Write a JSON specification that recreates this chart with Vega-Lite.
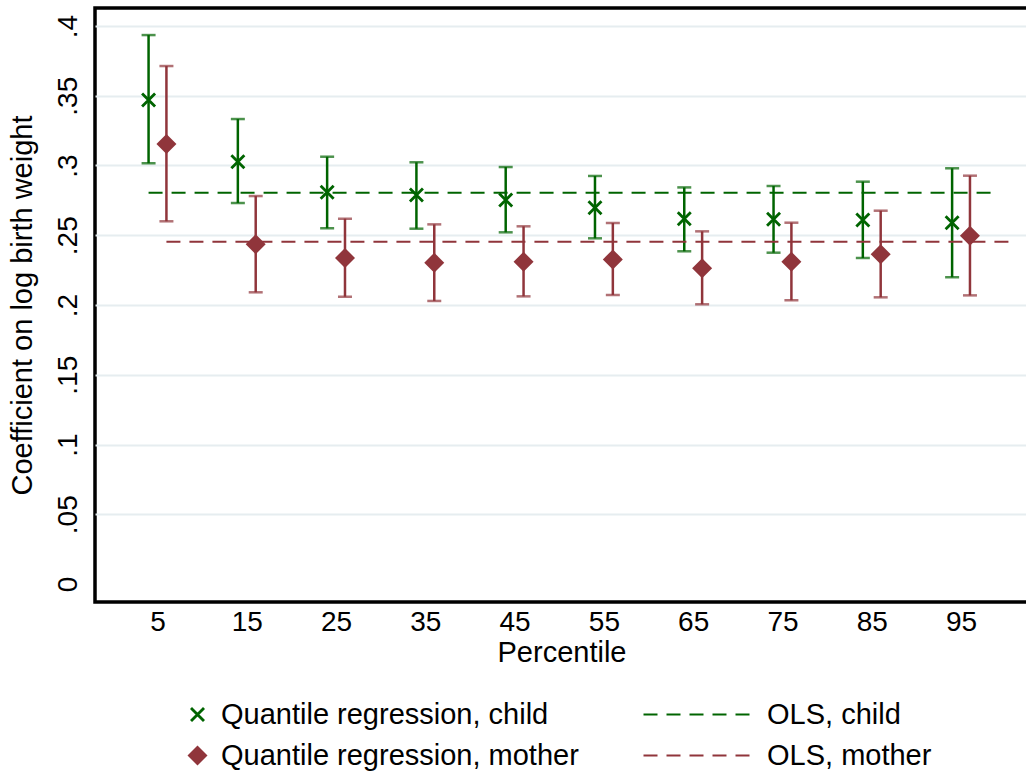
{
  "$schema": "https://vega.github.io/schema/vega-lite/v6.json",
  "autosize": {"type": "none"},
  "padding": {"left": 95, "top": 8, "right": 0, "bottom": 170},
  "width": 933,
  "height": 594,
  "background": "white",
  "config": {
    "view": {"stroke": "black", "strokeWidth": 3.5},
    "font": "Liberation Sans",
    "axis": {"labelFont": "Liberation Sans", "titleFont": "Liberation Sans", "labelColor": "black", "titleColor": "black", "titleFontWeight": "normal"},
    "legend": {"labelFont": "Liberation Sans", "labelColor": "black", "labelLimit": 0, "symbolOpacity": 1}
  },
  "datasets": {
    "qr": [
      {"series": "Quantile regression, child", "percentile": 5, "x": 4, "coef": 0.347, "lo": 0.3016, "hi": 0.3935},
      {"series": "Quantile regression, child", "percentile": 15, "x": 14, "coef": 0.3027, "lo": 0.2731, "hi": 0.3333},
      {"series": "Quantile regression, child", "percentile": 25, "x": 24, "coef": 0.2808, "lo": 0.255, "hi": 0.3063},
      {"series": "Quantile regression, child", "percentile": 35, "x": 34, "coef": 0.2789, "lo": 0.2547, "hi": 0.3023},
      {"series": "Quantile regression, child", "percentile": 45, "x": 44, "coef": 0.2753, "lo": 0.2521, "hi": 0.2989},
      {"series": "Quantile regression, child", "percentile": 55, "x": 54, "coef": 0.2698, "lo": 0.2478, "hi": 0.2925},
      {"series": "Quantile regression, child", "percentile": 65, "x": 64, "coef": 0.2619, "lo": 0.2385, "hi": 0.2843},
      {"series": "Quantile regression, child", "percentile": 75, "x": 74, "coef": 0.2614, "lo": 0.2375, "hi": 0.2853},
      {"series": "Quantile regression, child", "percentile": 85, "x": 84, "coef": 0.2609, "lo": 0.2337, "hi": 0.2884},
      {"series": "Quantile regression, child", "percentile": 95, "x": 94, "coef": 0.259, "lo": 0.2199, "hi": 0.298},
      {"series": "Quantile regression, mother", "percentile": 5, "x": 6, "coef": 0.3154, "lo": 0.26, "hi": 0.3713},
      {"series": "Quantile regression, mother", "percentile": 15, "x": 16, "coef": 0.2435, "lo": 0.2091, "hi": 0.2781},
      {"series": "Quantile regression, mother", "percentile": 25, "x": 26, "coef": 0.2337, "lo": 0.2059, "hi": 0.2619},
      {"series": "Quantile regression, mother", "percentile": 35, "x": 36, "coef": 0.2303, "lo": 0.2029, "hi": 0.2578},
      {"series": "Quantile regression, mother", "percentile": 45, "x": 46, "coef": 0.231, "lo": 0.2062, "hi": 0.2564},
      {"series": "Quantile regression, mother", "percentile": 55, "x": 56, "coef": 0.2327, "lo": 0.2072, "hi": 0.2588},
      {"series": "Quantile regression, mother", "percentile": 65, "x": 66, "coef": 0.2263, "lo": 0.2005, "hi": 0.2528},
      {"series": "Quantile regression, mother", "percentile": 75, "x": 76, "coef": 0.231, "lo": 0.2034, "hi": 0.259},
      {"series": "Quantile regression, mother", "percentile": 85, "x": 86, "coef": 0.2363, "lo": 0.2055, "hi": 0.2676},
      {"series": "Quantile regression, mother", "percentile": 95, "x": 96, "coef": 0.2497, "lo": 0.2069, "hi": 0.2927}
    ],
    "ols": [
      {"series": "OLS, child", "x_start": 4, "x_end": 99, "coef": 0.2805},
      {"series": "OLS, mother", "x_start": 6, "x_end": 101, "coef": 0.2454}
    ]
  },
  "encoding": {
    "x": {
      "type": "quantitative",
      "scale": {"domain": [-2, 102.5], "nice": false, "zero": false},
      "axis": {
        "title": "Percentile",
        "values": [5, 15, 25, 35, 45, 55, 65, 75, 85, 95],
        "grid": false, "ticks": false, "domain": false,
        "labelFontSize": 28, "labelPadding": 6,
        "titleFontSize": 29, "titlePadding": 2
      }
    },
    "y": {
      "type": "quantitative",
      "scale": {"domain": [-0.0129, 0.4129], "nice": false, "zero": false},
      "axis": {
        "title": "Coefficient on log birth weight",
        "values": [0, 0.05, 0.1, 0.15, 0.2, 0.25, 0.3, 0.35, 0.4],
        "labelExpr": "datum.value == 0 ? '0' : replace(format(datum.value, '.2~f'), '0.', '.')",
        "grid": true,
        "gridColor": {"condition": {"test": "datum.value == 0", "value": "transparent"}, "value": "#e6edf0"},
        "gridWidth": 2,
        "ticks": false, "domain": false,
        "labelAngle": -90, "labelAlign": "center", "labelBaseline": "bottom",
        "labelFontSize": 28, "labelPadding": 13,
        "titleFontSize": 29, "titlePadding": 17
      }
    }
  },
  "layer": [
    {
      "data": {"name": "qr"},
      "mark": {"type": "rule", "strokeWidth": 2.5},
      "encoding": {
        "x": {"field": "x"},
        "y": {"field": "lo"},
        "y2": {"field": "hi"},
        "color": {"field": "series", "type": "nominal",
          "scale": {"domain": ["Quantile regression, child", "Quantile regression, mother"], "range": ["#006400", "#90353b"]}}
      }
    },
    {
      "data": {"name": "qr"},
      "mark": {"type": "tick", "orient": "horizontal", "size": 14, "thickness": 2.5},
      "encoding": {
        "x": {"field": "x"},
        "y": {"field": "lo"},
        "color": {"field": "series", "type": "nominal"}
      }
    },
    {
      "data": {"name": "qr"},
      "mark": {"type": "tick", "orient": "horizontal", "size": 14, "thickness": 2.5},
      "encoding": {
        "x": {"field": "x"},
        "y": {"field": "hi"},
        "color": {"field": "series", "type": "nominal"}
      }
    },
    {
      "data": {"name": "ols"},
      "mark": {"type": "rule", "strokeWidth": 2},
      "encoding": {
        "x": {"field": "x_start"},
        "x2": {"field": "x_end"},
        "y": {"field": "coef"},
        "stroke": {"field": "series", "type": "nominal",
          "scale": {"domain": ["OLS, child", "OLS, mother"], "range": ["#006400", "#90353b"]},
          "legend": {"orient": "none", "legendX": 589, "legendY": 692, "title": null,
            "symbolType": "M-5.5,0H5.5", "symbolSize": 400, "symbolStrokeWidth": 2,
            "labelFontSize": 29, "labelOffset": 54, "labelLimit": 0, "rowPadding": 11, "padding": 0}},
        "strokeDash": {"field": "series", "type": "nominal",
          "scale": {"domain": ["OLS, child", "OLS, mother"], "range": [[14, 9], [14, 9]]}}
      }
    },
    {
      "data": {"name": "qr"},
      "mark": {"type": "point", "filled": true, "opacity": 1, "size": 400},
      "encoding": {
        "x": {"field": "x"},
        "y": {"field": "coef"},
        "color": {"field": "series", "type": "nominal",
          "legend": {"orient": "none", "legendX": 88, "legendY": 692, "title": null,
            "symbolSize": 400, "symbolOpacity": 1, "symbolStrokeWidth": 0,
            "labelFontSize": 29, "labelOffset": 9, "labelLimit": 0, "rowPadding": 11, "padding": 0}},
        "shape": {"field": "series", "type": "nominal",
          "scale": {"domain": ["Quantile regression, child", "Quantile regression, mother"],
            "range": ["M-0.55,-0.75L0.75,0.55L0.55,0.75L-0.75,-0.55ZM-0.55,0.75L-0.75,0.55L0.55,-0.75L0.75,-0.55Z", "diamond"]}}
      }
    }
  ]
}
